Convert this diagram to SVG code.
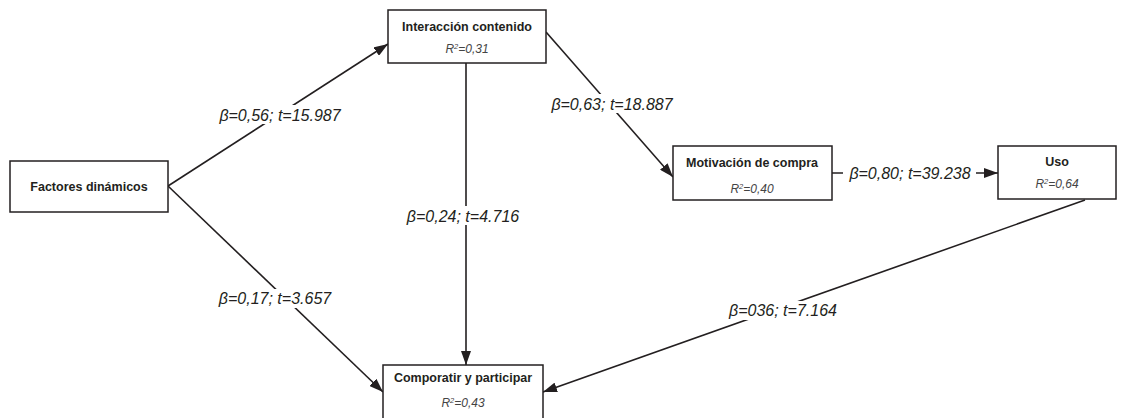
<svg xmlns="http://www.w3.org/2000/svg" width="1135" height="418" viewBox="0 0 1135 418">
<style>
.box{fill:#fff;stroke:#231f20;stroke-width:1.5}
.name{font-family:"Liberation Sans",Arial,sans-serif;font-weight:bold;font-size:12.5px;fill:#231f20;text-anchor:middle}
.r2{font-family:"Liberation Sans",Arial,sans-serif;font-style:italic;font-size:12px;fill:#444;text-anchor:middle}
.lbl{font-family:"Liberation Sans",Arial,sans-serif;font-style:italic;font-size:16px;fill:#231f20;text-anchor:middle}
.bg{fill:#fff}
.edge{stroke:#231f20;stroke-width:1.6;fill:none}
</style>
<defs>
<marker id="ah2" viewBox="0 0 14 10" refX="14" refY="5" markerWidth="14" markerHeight="10" markerUnits="userSpaceOnUse" orient="auto">
<path d="M0,0 L14,5 L0,10 Z" fill="#231f20"/>
</marker>
</defs>
<g id="connectors">
<line class="edge" x1="168" y1="186" x2="388" y2="44" marker-end="url(#ah2)"/>
<line class="edge" x1="168" y1="186" x2="383" y2="392" marker-end="url(#ah2)"/>
<line class="edge" x1="466" y1="63" x2="466" y2="365" marker-end="url(#ah2)"/>
<line class="edge" x1="546" y1="32" x2="673" y2="177" marker-end="url(#ah2)"/>
<line class="edge" x1="832" y1="173" x2="998" y2="173" marker-end="url(#ah2)"/>
<line class="edge" x1="1085" y1="200" x2="543" y2="392" marker-end="url(#ah2)"/>
<rect class="bg" x="214" y="105" width="132" height="19"/>
<rect class="bg" x="547" y="94" width="131" height="19"/>
<rect class="bg" x="395" y="206" width="136" height="19"/>
<rect class="bg" x="214" y="289" width="122" height="19"/>
<rect class="bg" x="721" y="301" width="123" height="19"/>
<rect class="bg" x="843" y="164" width="133" height="19"/>
<text class="lbl" x="280" y="121">β=0,56; t=15.987</text>
<text class="lbl" x="612" y="110">β=0,63; t=18.887</text>
<text class="lbl" x="463" y="222">β=0,24; t=4.716</text>
<text class="lbl" x="275" y="304">β=0,17; t=3.657</text>
<text class="lbl" x="783" y="316">β=036; t=7.164</text>
<text class="lbl" x="910" y="179">β=0,80; t=39.238</text>
</g>
<g id="factores">
<rect class="box" x="10" y="161" width="158" height="51"/>
<text class="name" x="89" y="191">Factores dinámicos</text>
</g>
<g id="interaccion">
<rect class="box" x="388" y="10" width="158" height="53"/>
<text class="name" x="467" y="31">Interacción contenido</text>
<text class="r2" x="467" y="53">R<tspan font-size="7.5" dy="-4">2</tspan><tspan dy="4">=0,31</tspan></text>
</g>
<g id="motivacion">
<rect class="box" x="673" y="146" width="159" height="54"/>
<text class="name" x="752" y="167">Motivación de compra</text>
<text class="r2" x="752" y="193">R<tspan font-size="7.5" dy="-4">2</tspan><tspan dy="4">=0,40</tspan></text>
</g>
<g id="uso">
<rect class="box" x="998" y="146" width="118" height="53"/>
<text class="name" x="1057" y="166">Uso</text>
<text class="r2" x="1057" y="188">R<tspan font-size="7.5" dy="-4">2</tspan><tspan dy="4">=0,64</tspan></text>
</g>
<g id="comporatir">
<rect class="box" x="383" y="365" width="160" height="60"/>
<text class="name" x="463" y="382">Comporatir y participar</text>
<text class="r2" x="463" y="407">R<tspan font-size="7.5" dy="-4">2</tspan><tspan dy="4">=0,43</tspan></text>
</g>
</svg>
